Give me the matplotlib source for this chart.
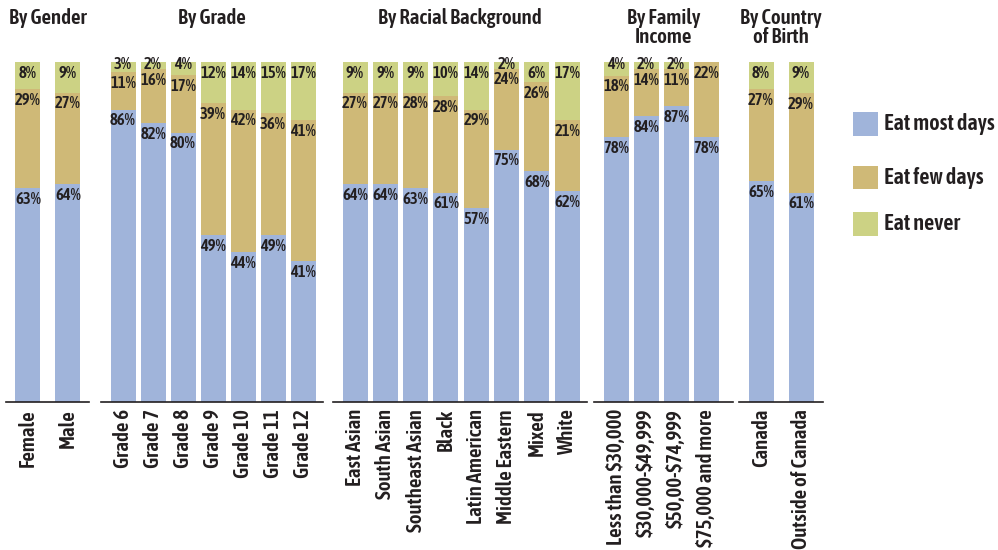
import numpy as np
import matplotlib
matplotlib.use("Agg")
import matplotlib.pyplot as plt
from matplotlib.patches import Rectangle

# Data (percent of students)
gender_cats = ["Female", "Male"]
gender_most = [63, 64]
gender_few = [29, 27]
gender_never = [8, 9]

grade_cats = ["Grade 6", "Grade 7", "Grade 8", "Grade 9", "Grade 10", "Grade 11", "Grade 12"]
grade_most = [86, 82, 80, 49, 44, 49, 41]
grade_few = [11, 16, 17, 39, 42, 36, 41]
grade_never = [3, 2, 4, 12, 14, 15, 17]

race_cats = ["East Asian", "South Asian", "Southeast Asian", "Black", "Latin American",
             "Middle Eastern", "Mixed", "White"]
race_most = [64, 64, 63, 61, 57, 75, 68, 62]
race_few = [27, 27, 28, 28, 29, 24, 26, 21]
race_never = [9, 9, 9, 10, 14, 2, 6, 17]

income_cats = ["Less than $30,000", "$30,000-$49,999", "$50,00-$74,999", "$75,000 and more"]
income_most = [78, 84, 87, 78]
income_few = [18, 14, 11, 22]
income_never = [4, 2, 2, 0]

birth_cats = ["Canada", "Outside of Canada"]
birth_most = [65, 61]
birth_few = [27, 29]
birth_never = [8, 9]

series_names = ["Eat most days", "Eat few days", "Eat never"]
colors = ["#A0B4DA", "#CFB977", "#CCD284"]
txt = "#231F20"
fam = ["Asap Condensed", "DejaVu Sans"]
wt = 600

groups = [
    ("By Gender", gender_cats, gender_most, gender_few, gender_never, 6, 89, 40),
    ("By Grade", grade_cats, grade_most, grade_few, grade_never, 101, 323, 30),
    ("By Racial Background", race_cats, race_most, race_few, race_never, 333, 587, 30.3),
    ("By Family\nIncome", income_cats, income_most, income_few, income_never, 594, 733, 30),
    ("By Country\nof Birth", birth_cats, birth_most, birth_few, birth_never, 739, 823, 40),
]

W, H = 998, 550
fig = plt.figure(figsize=(W / 100, H / 100), dpi=100)
ybot, ytop = 402, 62

for title, cats, most, few, never, x0, x1, pitch in groups:
    ax = fig.add_axes([x0 / W, (H - ybot) / H, (x1 - x0) / W, (ybot - ytop) / H])
    n = len(cats)
    x = np.arange(n)
    vals = np.array([most, few, never], dtype=float)
    vals = vals / vals.sum(axis=0) * 100  # stack to full height
    labels = np.array([most, few, never])
    bottom = np.zeros(n)
    for k in range(3):
        ax.bar(x, vals[k], bottom=bottom, width=25 / pitch, color=colors[k], linewidth=0)
        for i in range(n):
            if labels[k, i] == 0:
                continue
            top = bottom[i] + vals[k, i]
            if vals[k, i] < 6:
                yy = top - 0.6
            else:
                yy = top - 3.3
            ax.text(x[i], yy, "%d%%" % labels[k, i], ha="center", va="center",
                    fontsize=12, fontweight=wt, color=txt, family=fam, clip_on=False)
        bottom = bottom + vals[k]
    left = 22 / pitch
    ax.set_xlim(-left, -left + (x1 - x0) / pitch)
    ax.set_ylim(0, 100)
    ax.set_yticks([])
    ax.set_xticks(x)
    ax.set_xticklabels([c.replace("$", r"\$") for c in cats], rotation=90, va="top",
                       ha="center", fontsize=15, fontweight=wt, color=txt, family=fam)
    ax.tick_params(axis="x", length=0, pad=5)
    for s in ["top", "left", "right"]:
        ax.spines[s].set_visible(False)
    ax.spines["bottom"].set_color(txt)
    ax.spines["bottom"].set_linewidth(1.2)
    fig.text((x0 + x1) / 2 / W, 1 - 8 / H, title, ha="center", va="top", fontsize=15,
             fontweight=wt, color=txt, family=fam, linespacing=0.95)

# Legend
leg_y = [124, 178, 224]
for k in range(3):
    fig.add_artist(Rectangle((853 / W, 1 - (leg_y[k] + 11.5) / H), 25 / W, 23 / H,
                             transform=fig.transFigure, color=colors[k], linewidth=0))
    fig.text(884 / W, 1 - leg_y[k] / H, series_names[k], ha="left", va="center",
             fontsize=16, fontweight=wt, color=txt, family=fam)

fig.savefig("out.png", dpi=100)
